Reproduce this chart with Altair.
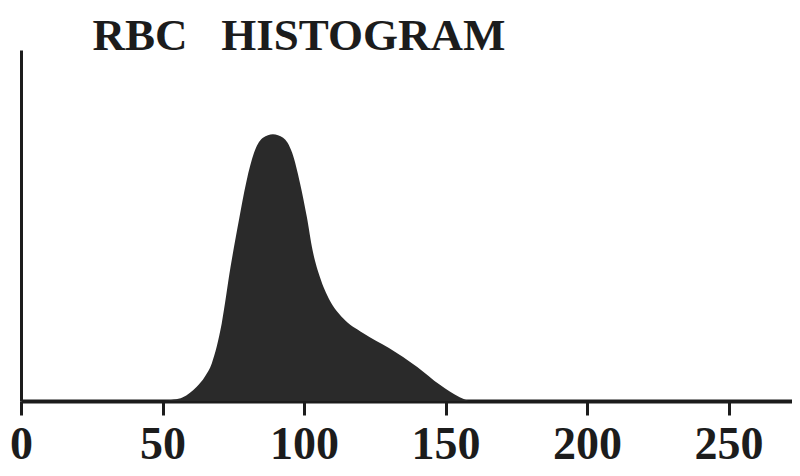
import altair as alt
import pandas as pd

# Red-cell volume (fL) and relative count
volume_fl = [0, 50, 54, 57.2, 62, 65, 67.4, 70.9, 74, 77, 80, 82.7, 85.5, 89,
             92.6, 95.8, 98.6, 101, 103, 105.6, 109, 113.8, 120.8, 130, 140,
             148, 155, 159, 272]
relative_count = [0, 0, 0.4, 1.1, 4, 7, 10.7, 22, 38, 51.6, 63.8, 71.5, 75,
                  76, 75, 70.7, 62, 52.4, 43, 35.3, 28.8, 23.6, 19.4, 15.1,
                  9.7, 4.6, 1.1, 0, 0]
tick_values = [0, 50, 100, 150, 200, 250]
title_text = "RBC\u00a0\u00a0\u00a0HISTOGRAM"

df = pd.DataFrame({"volume": volume_fl, "count": relative_count})

ink = "#1c1c1c"
serif = "Liberation Serif"

chart = (
    alt.Chart(df)
    .mark_area(color="#2a2a2a", interpolate="monotone")
    .encode(
        x=alt.X(
            "volume:Q",
            scale=alt.Scale(domain=[0, 272.4], nice=False, zero=True),
            axis=alt.Axis(
                values=tick_values,
                title=None,
                grid=False,
                domainColor=ink,
                domainWidth=4,
                tickColor=ink,
                tickWidth=3,
                tickSize=14,
                labelFont=serif,
                labelFontSize=46,
                labelFontWeight="bold",
                labelColor=ink,
                labelPadding=7,
                labelFlush=False,
                labelOverlap=False,
                labelBound=False,
            ),
        ),
        y=alt.Y(
            "count:Q",
            scale=alt.Scale(domain=[0, 100], nice=False),
            axis=alt.Axis(
                labels=False,
                ticks=False,
                title=None,
                grid=False,
                domainColor=ink,
                domainWidth=3,
            ),
        ),
    )
    .properties(
        width=771,
        height=351,
        title=alt.TitleParams(
            title_text,
            anchor="start",
            dx=83,
            dy=13,
            font=serif,
            fontSize=45,
            fontWeight="bold",
            color=ink,
        ),
        autosize=alt.AutoSizeParams(type="none"),
        padding={"left": 13, "top": 42, "right": 0, "bottom": 72},
        background="white",
    )
    .configure_view(stroke=None)
)

chart.save("out.html", embed_options={"renderer": "svg", "actions": False})
